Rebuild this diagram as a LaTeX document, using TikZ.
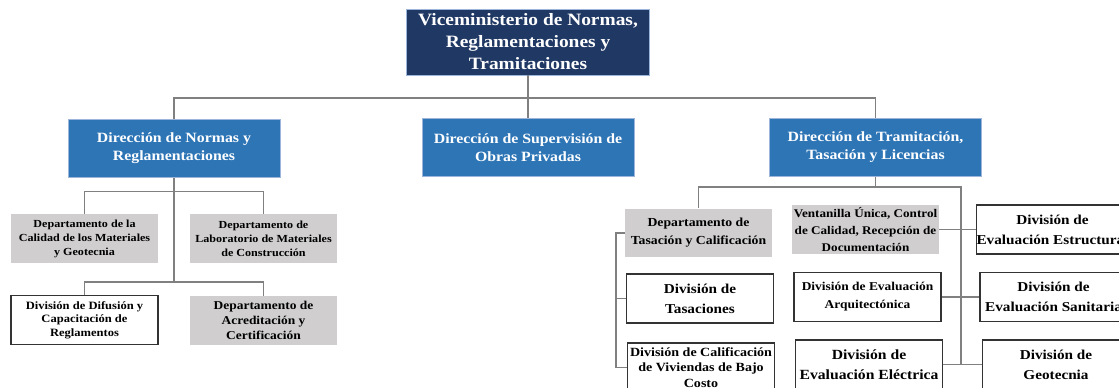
\documentclass[tikz,border=0pt]{standalone}
\usepackage{fontspec}
\setmainfont{Liberation Serif}[FakeStretch=1.12]

\definecolor{navy}{HTML}{203864}
\definecolor{dirblue}{HTML}{2E75B6}
\definecolor{edgeblue}{HTML}{9DB5DA}
\definecolor{deptgrey}{HTML}{D0CECE}
\definecolor{linegrey}{HTML}{808080}

\tikzset{
  box/.style={align=center, inner sep=0pt, font=\bfseries},
  vice/.style={box, fill=navy, draw=edgeblue, line width=0.6pt, text=white,
    minimum width=182pt, minimum height=49.5pt, font=\bfseries\fontsize{13}{16.5}\selectfont},
  dir/.style={box, fill=dirblue, draw=edgeblue, line width=0.6pt, text=white,
    minimum width=159pt, minimum height=43pt, font=\bfseries\fontsize{10.6}{13.5}\selectfont},
  dept/.style={box, fill=deptgrey, minimum width=110pt, minimum height=36.5pt},
  divn/.style={box, fill=white, draw=black!80, line width=1.1pt, minimum width=110.5pt, minimum height=37pt},
  conn/.style={draw=linegrey, line width=1pt}
}

\begin{document}
\begin{tikzpicture}[x=0.75pt, y=-0.75pt]
  \useasboundingbox (0,0) rectangle (1119,388);
  \clip (0,0) rectangle (1119,388);

  \node[vice] (V) at (528, 42) {Viceministerio de Normas,\\Reglamentaciones y\\Tramitaciones};

  \node[dir] (D1) at (174, 148.5) {Dirección de Normas y\\Reglamentaciones};
  \node[dir] (D2) at (528, 147.5) {Dirección de Supervisión de\\Obras Privadas};
  \node[dir] (D3) at (875.5, 147.5) {Dirección de Tramitación,\\Tasación y Licencias};

  % rama izquierda
  \node[dept, font=\bfseries\fontsize{8.1}{10.5}\selectfont] (L1) at (84.5, 238.5)
    {Departamento de la\\Calidad de los Materiales\\y Geotecnia};
  \node[dept, font=\bfseries\fontsize{8.1}{10.5}\selectfont] (L2) at (263.5, 238.5)
    {Departamento de\\Laboratorio de Materiales\\de Construcción};
  \node[divn, font=\bfseries\fontsize{8.4}{10}\selectfont] (L3) at (84.5, 320)
    {División de Difusión y\\Capacitación de\\Reglamentos};
  \node[dept, font=\bfseries\fontsize{9}{11.5}\selectfont] (L4) at (263.5, 320.5)
    {Departamento de\\Acreditación y\\Certificación};

  % rama derecha
  \node[dept, font=\bfseries\fontsize{9.2}{13.5}\selectfont] (R1) at (698.5, 233)
    {Departamento de\\Tasación y Calificación};
  \node[divn, font=\bfseries\fontsize{10.2}{15}\selectfont] (R2) at (700, 298.5)
    {División de\\Tasaciones};
  \node[divn, font=\bfseries\fontsize{9.4}{11.8}\selectfont] (R3) at (701, 367.5)
    {División de Calificación\\de Viviendas de Bajo\\Costo};
  \node[dept, font=\bfseries\fontsize{8.8}{12.5}\selectfont] (R4) at (865.5, 229.5)
    {Ventanilla Única, Control\\de Calidad, Recepción de\\Documentación};
  \node[divn, font=\bfseries\fontsize{9}{13.5}\selectfont] (R5) at (867.5, 297)
    {División de Evaluación\\Arquitectónica};
  \node[divn, font=\bfseries\fontsize{10.5}{15}\selectfont] (R6) at (869, 364.5)
    {División de\\Evaluación Eléctrica};
  \node[divn, font=\bfseries\fontsize{10.2}{15}\selectfont] (R7) at (1052.5, 229.5)
    {División de\\Evaluación Estructural};
  \node[divn, font=\bfseries\fontsize{10.2}{15}\selectfont] (R8) at (1053.5, 297)
    {División de\\Evaluación Sanitaria};
  \node[divn, font=\bfseries\fontsize{10.2}{15}\selectfont] (R9) at (1056, 364.5)
    {División de\\Geotecnia};

  \coordinate (vb) at (528, 98);
  \coordinate (lb1) at (174, 191.5);
  \coordinate (lb2) at (174, 282);
  \coordinate (rb) at (875.5, 187);
  \coordinate (rv) at (961, 187);
  \coordinate (bk) at (616, 233);

  \draw[conn] (V.south) -- (D2.north);
  \draw[conn] (D1.north) -- (D1.north |- vb) -- (D3.north |- vb) -- (D3.north);

  \draw[conn] (D1.south) -- (lb2);
  \draw[conn] (L1.north) -- (L1.north |- lb1) -- (L2.north |- lb1) -- (L2.north);
  \draw[conn] (L3.north) -- (L3.north |- lb2) -- (L4.north |- lb2) -- (L4.north);

  \draw[conn] (D3.south) -- (rb);
  \draw[conn] (R1.north) -- (R1.north |- rb) -- (rv) -- (rv |- R6.east);
  \draw[conn] (R1.west) -- (bk) -- (bk |- R3.west) -- (R3.west);
  \draw[conn] (bk |- R2.west) -- (R2.west);
  \draw[conn] (R4) -- (R7);
  \draw[conn] (R5) -- (R8);
  \draw[conn] (R6) -- (R9);
\end{tikzpicture}
\end{document}
